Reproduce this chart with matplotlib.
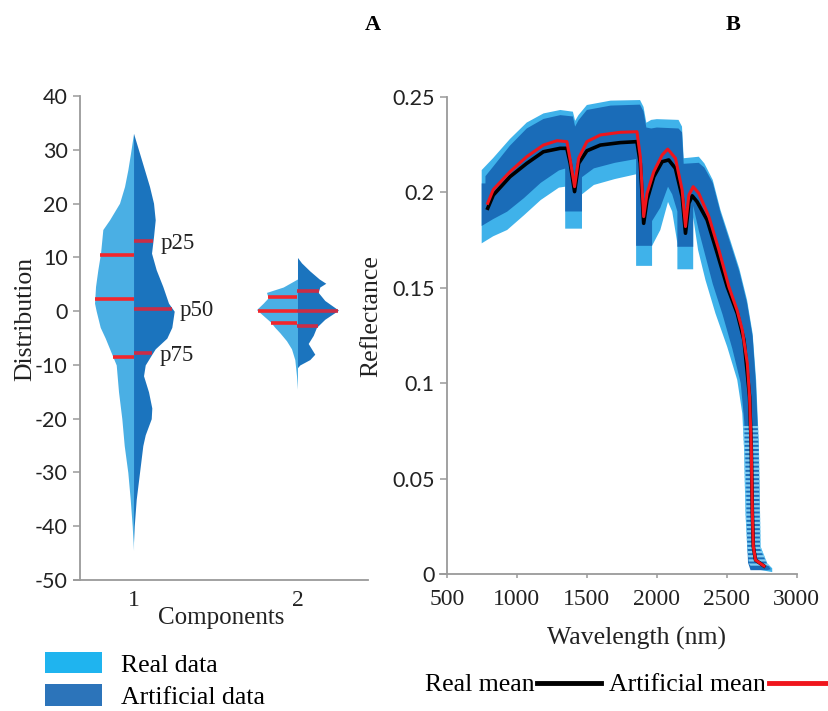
import numpy as np
import matplotlib
matplotlib.use("Agg")
import matplotlib.pyplot as plt
from matplotlib.patches import Patch, Rectangle
from matplotlib.lines import Line2D

# ---------------- data: panel A (split violins) ----------------
components = [1, 2]
comp_labels = ["1", "2"]

# half-widths (density, arbitrary units) of each half violin
v1_real_y = [33.1, 29.4, 26.3, 23.2, 20.1, 17.0, 15.2, 10.8, 7.7, 4.6, 1.5, 0, -3, -5, -8, -10, -15, -20, -25, -30, -35, -40, -44.5]
v1_real_w = [0, 3, 5.7, 9, 14, 24, 30.7, 33, 35.7, 38, 39, 37.3, 33.3, 28.3, 21.7, 17.3, 15, 11.7, 9.3, 5.7, 3.3, 1.3, 0]
v1_art_y = [33.1, 29.4, 26.3, 23.2, 20.1, 17.0, 13.9, 10.8, 7.7, 4.6, 1.5, 0, -3, -5, -7, -8, -10, -12, -15, -18, -20, -23, -25, -30, -35, -40, -43]
v1_art_w = [0, 6, 11, 16, 20, 21.7, 20, 18, 22.7, 29.3, 35, 40.7, 38.3, 33.3, 21.7, 18.3, 11.7, 10, 15, 18.3, 17.7, 11.7, 9.3, 6, 2.7, 0.7, 0]
v2_real_y = [6, 4.5, 3.5, 2.5, 1.5, 0.3, -0.8, -2, -3, -4, -5.5, -7, -9, -12, -14.5]
v2_real_w = [0, 14.3, 31, 29.3, 34.3, 41, 34.3, 27, 22.7, 17.7, 11, 6, 2.7, 1, 0]
v2_art_y = [10, 9, 7.5, 6, 5.2, 4.5, 3.5, 2, 0.2, -1.5, -3, -4.5, -6, -7, -8, -9, -10, -10.5]
v2_art_w = [0, 4, 12.3, 21.7, 28.3, 22.3, 20.7, 27.3, 41, 27.3, 19, 15.7, 10.7, 14, 17.3, 12.3, 2.3, 0]

# quartiles (p25, p50, p75 lines)
v1_real_q = [10.5, 2.2, -8.6]
v1_art_q = [13.0, 0.5, -7.8]
v2_real_q = [2.6, 0.1, -2.2]
v2_art_q = [3.8, 0.1, -2.8]
q_names = ["p25", "p50", "p75"]

# ---------------- data: panel B (spectra) ----------------
real_mean_nm = [791, 831, 950, 1070, 1189, 1309, 1357, 1381, 1412, 1441, 1500, 1596, 1739, 1858, 1882, 1906, 1930, 1978, 2038, 2085, 2133, 2181, 2205, 2229, 2253, 2288, 2360, 2432, 2503, 2575, 2623, 2647, 2663, 2675, 2683, 2690, 2706, 2766]
real_mean = [0.1917, 0.1986, 0.2082, 0.2152, 0.2213, 0.2231, 0.2231, 0.2152, 0.2004, 0.2152, 0.2218, 0.2248, 0.2261, 0.2266, 0.2152, 0.1838, 0.1960, 0.2082, 0.2161, 0.2170, 0.2126, 0.1978, 0.1786, 0.1943, 0.1982, 0.1951, 0.1855, 0.1681, 0.1506, 0.1366, 0.1226, 0.1052, 0.0929, 0.0667, 0.0318, 0.0143, 0.0073, 0.0042]
art_mean_nm = [791, 831, 950, 1070, 1189, 1287, 1357, 1381, 1412, 1441, 1500, 1596, 1739, 1858, 1882, 1906, 1930, 1978, 2038, 2078, 2133, 2181, 2205, 2229, 2260, 2300, 2372, 2444, 2515, 2575, 2611, 2647, 2663, 2675, 2683, 2690, 2706, 2766]
art_mean = [0.1943, 0.2015, 0.2108, 0.2187, 0.2248, 0.2271, 0.2266, 0.2170, 0.2030, 0.2179, 0.2266, 0.2301, 0.2315, 0.2318, 0.2187, 0.1873, 0.1995, 0.2108, 0.2196, 0.2227, 0.2179, 0.2013, 0.1821, 0.1986, 0.2030, 0.1995, 0.1873, 0.1698, 0.1506, 0.1380, 0.1279, 0.1104, 0.0929, 0.0667, 0.0318, 0.0143, 0.0073, 0.0042]

real_hi_nm = [748, 830, 950, 1070, 1190, 1310, 1400, 1416, 1440, 1500, 1670, 1880, 1905, 1925, 1960, 2000, 2155, 2180, 2192, 2300, 2340, 2400, 2455, 2525, 2590, 2645, 2685, 2710, 2730, 2742, 2790, 2825]
real_hi = [0.2117, 0.2180, 0.2280, 0.2366, 0.2414, 0.2432, 0.2423, 0.2375, 0.2405, 0.2458, 0.2481, 0.2484, 0.2448, 0.2365, 0.2380, 0.2384, 0.2380, 0.2345, 0.2179, 0.2187, 0.2152, 0.2065, 0.1908, 0.1750, 0.1600, 0.1436, 0.1260, 0.1017, 0.0667, 0.0143, 0.0055, 0.0030]
real_lo_nm = [748, 830, 930, 1050, 1170, 1300, 1345, 1345, 1465, 1465, 1550, 1700, 1852, 1852, 1966, 1966, 2025, 2080, 2110, 2147, 2147, 2260, 2260, 2295, 2348, 2419, 2503, 2575, 2611, 2623, 2634, 2646, 2658, 2682, 2825]
real_lo = [0.1733, 0.1770, 0.1803, 0.1880, 0.1960, 0.2025, 0.2030, 0.1810, 0.1810, 0.1990, 0.2039, 0.2070, 0.2095, 0.1615, 0.1615, 0.1720, 0.1803, 0.1950, 0.1900, 0.1733, 0.1597, 0.1597, 0.1870, 0.1698, 0.1540, 0.1366, 0.1191, 0.1017, 0.0842, 0.0667, 0.0318, 0.0143, 0.0055, 0.0029, 0.0010]

art_hi_nm = [748, 775, 775, 830, 950, 1070, 1190, 1310, 1400, 1416, 1440, 1500, 1670, 1880, 1905, 1925, 1960, 2000, 2155, 2180, 2192, 2300, 2340, 2400, 2455, 2525, 2590, 2645, 2685, 2708, 2728, 2738, 2790, 2815]
art_hi = [0.2047, 0.2047, 0.2085, 0.2135, 0.2245, 0.2335, 0.2385, 0.2405, 0.2398, 0.2345, 0.2378, 0.2432, 0.2455, 0.2460, 0.2425, 0.2340, 0.2335, 0.2340, 0.2335, 0.2315, 0.2150, 0.2155, 0.2130, 0.2050, 0.1895, 0.1735, 0.1585, 0.1420, 0.1245, 0.1000, 0.0650, 0.0130, 0.0050, 0.0025]
art_lo_nm = [748, 830, 930, 1050, 1170, 1300, 1345, 1345, 1465, 1465, 1550, 1700, 1852, 1852, 1966, 1966, 2025, 2080, 2110, 2147, 2147, 2260, 2260, 2300, 2400, 2470, 2540, 2600, 2625, 2638, 2645, 2652, 2670, 2790, 2815]
art_lo = [0.1824, 0.1860, 0.1899, 0.1970, 0.2050, 0.2115, 0.2125, 0.1900, 0.1900, 0.2080, 0.2126, 0.2155, 0.2175, 0.1720, 0.1720, 0.1850, 0.1920, 0.2030, 0.1990, 0.1900, 0.1715, 0.1715, 0.1930, 0.1800, 0.1520, 0.1360, 0.1180, 0.1000, 0.0800, 0.0500, 0.0200, 0.0060, 0.0020, 0.0020, 0.0025]

wl_ticks = [500, 1000, 1500, 2000, 2500, 3000]
refl_ticks = [0, 0.05, 0.10, 0.15, 0.20, 0.25]
refl_tick_labels = ["0", "0.05", "0.1", "0.15", "0.2", "0.25"]

# ---------------- style ----------------
SERIF = ["Liberation Serif", "DejaVu Serif"]
SANS = ["Lato", "DejaVu Sans"]
VL_LIGHT = "#4aafe4"
VL_DARK = "#1b74be"
SP_LIGHT = "#3fb2ea"
SP_DARK = "#1a6cb8"
LEG_LIGHT = "#1fb4ef"
LEG_DARK = "#2c74ba"
SPINE = "#9a9a9a"
WSCALE = 1 / 164.0
plt.rcParams["hatch.linewidth"] = 1.6

fig = plt.figure(figsize=(8.29, 7.11), dpi=100)

# ================= Panel A =================
axA = fig.add_axes([74 / 829, 1 - 580 / 711, 294 / 829, 483.8 / 711])
axA.set_xlim(0.637, 2.43)
axA.set_ylim(-50, 40)
for s in ["top", "right"]:
    axA.spines[s].set_visible(False)
axA.spines["left"].set_position(("data", 0.674))
for s in ["left", "bottom"]:
    axA.spines[s].set_color(SPINE)
    axA.spines[s].set_linewidth(1.3)

violins = [
    (components[0], v1_real_y, v1_real_w, v1_art_y, v1_art_w, v1_real_q, v1_art_q),
    (components[1], v2_real_y, v2_real_w, v2_art_y, v2_art_w, v2_real_q, v2_art_q),
]
for pos, ry, rw, ay, aw, rq, aq in violins:
    ry = np.array(ry); rw = np.array(rw) * WSCALE
    ay = np.array(ay); aw = np.array(aw) * WSCALE
    axA.fill_betweenx(ry, pos - rw, pos, color=VL_LIGHT, lw=0, zorder=2)
    axA.fill_betweenx(ay, pos, pos + aw, color=VL_DARK, lw=0, zorder=2)
    for q in rq:
        w = np.interp(q, ry[::-1], rw[::-1])
        axA.plot([pos - w, pos], [q, q], color="#f2262c", lw=2.6, solid_capstyle="butt", zorder=3)
    for q in aq:
        w = np.interp(q, ay[::-1], aw[::-1])
        axA.plot([pos, pos + w], [q, q], color="#c92d47", lw=2.6, solid_capstyle="butt", zorder=3)

# percentile annotations next to component 1 artificial half
for name, q in zip(q_names, v1_art_q):
    w = np.interp(q, np.array(v1_art_y)[::-1], np.array(v1_art_w)[::-1]) * WSCALE
    axA.text(components[0] + w + 0.045, q - 0.4, name, fontsize=16.5, family=SERIF,
             va="center", ha="left", color="#222222")

axA.set_yticks(range(-50, 41, 10))
axA.set_yticklabels([str(v) for v in range(-50, 41, 10)], family=SANS, fontsize=15.5, color="#222222")
axA.set_xticks(components)
axA.set_xticklabels(comp_labels, family=SERIF, fontsize=17, color="#222222")
axA.tick_params(axis="y", direction="out", length=5, width=1.1, color=SPINE, pad=4)
axA.tick_params(axis="x", length=0, pad=7)
axA.set_xlabel("Components", family=SERIF, fontsize=18, color="#222222")
axA.xaxis.set_label_coords(0.5, -0.055)
axA.set_ylabel("Distribution", family=SERIF, fontsize=18.5, color="#222222")
axA.yaxis.set_label_coords(-0.128, 0.54)

# ================= Panel B =================
axB = fig.add_axes([440 / 829, 1 - 574 / 711, 356.7 / 829, 477 / 711])
axB.set_xlim(450, 3000)
axB.set_ylim(0, 0.25)
for s in ["top", "right"]:
    axB.spines[s].set_visible(False)
axB.spines["left"].set_position(("data", 500))
for s in ["left", "bottom"]:
    axB.spines[s].set_color(SPINE)
    axB.spines[s].set_linewidth(1.3)

light_poly_x = np.r_[real_hi_nm, real_lo_nm[::-1]]
light_poly_y = np.r_[real_hi, real_lo[::-1]]
dark_poly_x = np.r_[art_hi_nm, art_lo_nm[::-1]]
dark_poly_y = np.r_[art_hi, art_lo[::-1]]
axB.fill(light_poly_x, light_poly_y, color=SP_LIGHT, lw=0, zorder=2)
axB.fill(dark_poly_x, dark_poly_y, color=SP_DARK, lw=0, zorder=3)
# striped rendering of the steep tail (as in the original raster)
tail = axB.fill(light_poly_x, light_poly_y, facecolor="none", edgecolor="#7fcdf2",
                hatch="----", lw=0, zorder=3.5)[0]
tail.set_clip_path(Rectangle((2550, 0.004), 300, 0.074, transform=axB.transData))
axB.plot(real_mean_nm, real_mean, color="black", lw=2.6, zorder=4)
axB.plot(art_mean_nm, art_mean, color="#f0151c", lw=2.2, zorder=5)

axB.set_xticks(wl_ticks)
axB.set_xticklabels([str(v) for v in wl_ticks], family=SERIF, fontsize=17, color="#222222")
axB.set_yticks(refl_ticks)
axB.set_yticklabels(refl_tick_labels, family=SANS, fontsize=15.5, color="#222222")
axB.tick_params(axis="x", direction="out", length=3, width=1.1, color=SPINE, pad=8)
axB.tick_params(axis="y", direction="out", length=5, width=1.1, color=SPINE, pad=4)
axB.set_xlabel("Wavelength (nm)", family=SERIF, fontsize=18.5, color="#222222")
axB.xaxis.set_label_coords(0.55, -0.11)
axB.set_ylabel("Reflectance", family=SERIF, fontsize=18.5, color="#222222")
axB.yaxis.set_label_coords(-0.162, 0.54)

# panel titles
fig.text(372.7 / 829, 1 - 25 / 711, "A", family=SERIF, fontsize=16, fontweight="bold", ha="center", va="center")
fig.text(733 / 829, 1 - 25 / 711, "B", family=SERIF, fontsize=16, fontweight="bold", ha="center", va="center")

# legends
leg1 = fig.legend(handles=[Patch(facecolor=LEG_LIGHT, edgecolor="none", label="Real data"),
                           Patch(facecolor=LEG_DARK, edgecolor="none", label="Artificial data")],
                  loc="upper left", bbox_to_anchor=(45 / 829, 1 - 652 / 711), frameon=False,
                  prop={"family": SERIF, "size": 18.5}, handlelength=2.2, handleheight=0.9,
                  handletextpad=0.75, labelspacing=0.3, borderpad=0, borderaxespad=0)
leg2 = fig.legend(handles=[Line2D([], [], color="black", lw=3.5, label="Real mean"),
                           Line2D([], [], color="#f0151c", lw=3.5, label="Artificial mean")],
                  loc="center left", bbox_to_anchor=(425 / 829, 1 - 685 / 711), frameon=False,
                  ncol=2, markerfirst=False, prop={"family": SERIF, "size": 18.5},
                  handlelength=2.5, handletextpad=0.1, columnspacing=0.3, borderpad=0, borderaxespad=0)

fig.savefig("out.png", dpi=100)
